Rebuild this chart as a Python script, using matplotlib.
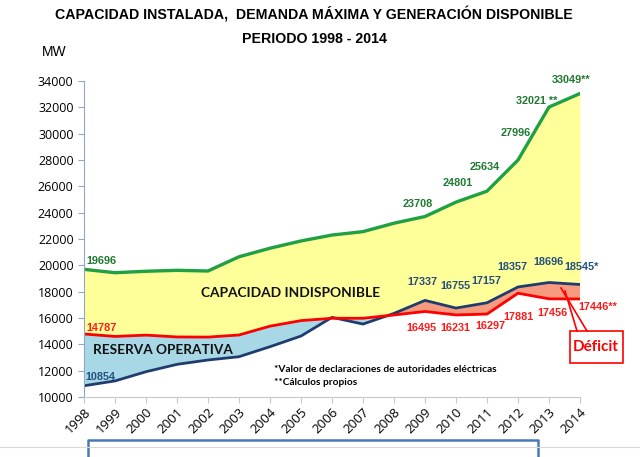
import numpy as np
import matplotlib
matplotlib.use('Agg')
from matplotlib import pyplot as plt
from matplotlib.patches import Rectangle
from matplotlib.lines import Line2D

# data
years = list(range(1998, 2015))
capacidad = [19696, 19440, 19550, 19620, 19570, 20650, 21300, 21850, 22300, 22560,
             23200, 23708, 24801, 25634, 27996, 32021, 33049]
demanda = [14787, 14600, 14700, 14560, 14550, 14710, 15380, 15800, 15980, 15980,
           16230, 16495, 16231, 16297, 17881, 17456, 17446]
generacion = [10854, 11220, 11920, 12480, 12810, 13060, 13820, 14630, 16050, 15540,
              16350, 17337, 16755, 17157, 18357, 18696, 18545]

cap_labels = {1998: '19696', 2009: '23708', 2010: '24801', 2011: '25634',
              2012: '27996', 2013: '32021 **', 2014: '33049**'}
gen_labels = {1998: '10854', 2009: '17337', 2010: '16755', 2011: '17157',
              2012: '18357', 2013: '18696', 2014: '18545*'}
dem_labels = {1998: '14787', 2009: '16495', 2010: '16231', 2011: '16297',
              2012: '17881', 2013: '17456', 2014: '17446**'}

x = np.array(years)
cap = np.array(capacidad)
dem = np.array(demanda)
gen = np.array(generacion)

fig = plt.figure(figsize=(6.4, 4.57), dpi=100)
ax = fig.add_axes([84/640, 1-397/457, 496/640, 316/457])

# fills
top_low = np.maximum(dem, gen)
ax.fill_between(x, top_low, cap, color='#ffff99', lw=0)
ax.fill_between(x, gen, dem, where=dem >= gen, interpolate=True, color='#a8d8e6', lw=0)
ax.fill_between(x, dem, gen, where=gen >= dem, interpolate=True, color='#f79a7f', lw=0)

ax.plot(x, cap, color='#1ea043', lw=2.4)
ax.plot(x, gen, color='#1f3c6e', lw=2.0)
ax.plot(x, dem, color='#ff0000', lw=2.0)

ax.set_xlim(1998, 2014)
ax.set_ylim(10000, 34000)
ax.set_yticks(range(10000, 34001, 2000))
ax.set_xticks(years)
ax.set_xticklabels([str(y) for y in years], rotation=45, ha='right', va='top',
                   rotation_mode='anchor', fontsize=9.5, family='Open Sans')
for t in ax.get_yticklabels():
	t.set_family('Open Sans')
	t.set_fontsize(9)
for s in ['top', 'right']:
	ax.spines[s].set_visible(False)
ax.spines['left'].set_color('#8ea6c8')
ax.spines['bottom'].set_color('#c8c8c8')
ax.tick_params(axis='y', color='#8ea6c8', length=4)
ax.tick_params(axis='x', color='#c8c8c8', length=4, pad=2)

# label positions in pixels of the picture (left edge for 1998, centre otherwise)
def px(xp, yp):
	return 1998 + (xp - 84) / 31.0, 10000 + (397 - yp) * 2000 / 26.33

lab_kw = dict(fontsize=7.8, fontweight='bold', family='Liberation Sans')
gpos = {1998: (86, 261), 2009: (418, 204), 2010: (458, 183), 2011: (485, 167),
        2012: (516, 133), 2013: (537, 101), 2014: (571, 80)}
bpos = {1998: (85, 377), 2009: (422, 282), 2010: (455, 286), 2011: (486, 281),
        2012: (512, 267), 2013: (549, 262), 2014: (582, 267)}
rpos = {1998: (86, 328), 2009: (421, 328), 2010: (455, 328), 2011: (490, 326),
        2012: (518, 317), 2013: (552, 313), 2014: (598, 307)}
for labels, pos, col in [(cap_labels, gpos, '#1e7a30'), (gen_labels, bpos, '#24507e'),
                         (dem_labels, rpos, '#ff1a1a')]:
	for y, txt in labels.items():
		dx, dy = px(*pos[y])
		ha = 'left' if y == 1998 else 'center'
		ax.text(dx, dy, txt, color=col, ha=ha, va='center', clip_on=False, **lab_kw)

ax.text(*px(291, 293), 'CAPACIDAD INDISPONIBLE', fontsize=9.9, fontweight='bold',
        family='Lato', ha='center', va='center', color='#111111')
ax.text(*px(93, 350), 'RESERVA OPERATIVA', fontsize=9.8, fontweight='bold',
        family='Lato', ha='left', va='center', color='#111111')
ax.text(*px(274, 370), '*Valor de declaraciones de autoridades eléctricas', fontsize=7.3,
        fontweight='bold', family='Lato', ha='left', va='center')
ax.text(*px(274, 383), '**Cálculos propios', fontsize=7.3,
        fontweight='bold', family='Lato', ha='left', va='center')

# Deficit box
fig.patches.append(Rectangle((570/640, 1-363/457), 53/640, 32/457, transform=fig.transFigure,
                             fill=True, facecolor='white', edgecolor='#ff0000', lw=1.2))
fig.text(596/640, 1-347/457, 'Déficit', color='#ff0000', fontsize=11, fontweight='bold',
         family='Lato', ha='center', va='center')
fig.lines.append(Line2D([577/640, 565/640], [1-331/457, 1-291/457], transform=fig.transFigure,
                        color='#ff0000', lw=1.2))
fig.lines.append(Line2D([587/640, 561/640], [1-331/457, 1-288/457], transform=fig.transFigure,
                        color='#ff0000', lw=1.2))

# titles
tkw = dict(fontweight='bold', family=['Liberation Sans Narrow', 'Liberation Sans'],
           ha='center', va='center', fontsize=10.2)
fig.text(314/640, 1-15/457, 'CAPACIDAD INSTALADA,  DEMANDA MÁXIMA Y GENERACIÓN DISPONIBLE', **tkw)
fig.text(314/640, 1-39/457, 'PERIODO 1998 - 2014', **tkw)
fig.text(42/640, 1-52/457, 'MW', fontsize=10, family='Liberation Sans', ha='left', va='center')

# cut-off box at bottom
fig.lines.append(Line2D([88/640, 88/640, 538/640, 538/640], [0, 1-440/457, 1-440/457, 0],
                        transform=fig.transFigure, color='#4a78b8', lw=1.8))
fig.lines.append(Line2D([0, 1], [1-447/457, 1-447/457], transform=fig.transFigure,
                        color='#d8d8d8', lw=0.8))

plt.savefig('out.png', dpi=100)
